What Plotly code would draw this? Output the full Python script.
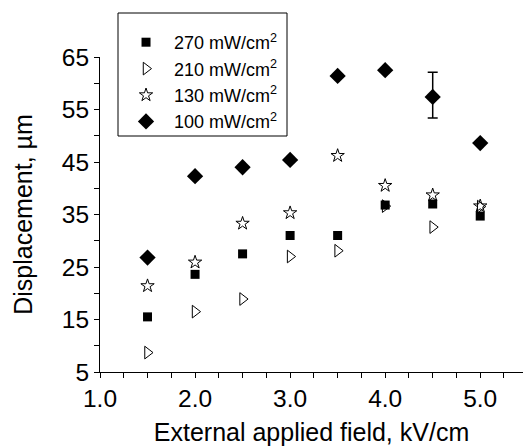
import plotly.graph_objects as go

field = [1.5, 2.0, 2.5, 3.0, 3.5, 4.0, 4.5, 5.0]
d270 = [15.5, 23.6, 27.5, 31.0, 31.0, 36.8, 37.0, 34.7]
d210 = [8.7, 16.5, 18.9, 27.0, 28.1, 36.6, 32.6, 36.5]
d130 = [21.4, 25.9, 33.3, 35.3, 46.2, 40.5, 38.7, 36.6]
d100 = [26.8, 42.3, 44.0, 45.4, 61.4, 62.5, 57.4, 48.6]
err100_plus = [0, 0, 0, 0, 0, 0, 4.7, 0]
err100_minus = [0, 0, 0, 0, 0, 0, 4.0, 0]
x_ticks = [1.0, 2.0, 3.0, 4.0, 5.0]
y_ticks = [5, 15, 25, 35, 45, 55, 65]

FONT = "Liberation Sans, Arial, sans-serif"

fig = go.Figure()
fig.add_trace(go.Scatter(x=field, y=d270, mode="markers", name="270 mW/cm<sup>2</sup>",
                         marker=dict(symbol="square", size=9, color="black")))
fig.add_trace(go.Scatter(x=field, y=d210, mode="markers", name="210 mW/cm<sup>2</sup>",
                         marker=dict(symbol="triangle-right-open", size=11, color="black",
                                     line=dict(width=1, color="black"))))
fig.add_trace(go.Scatter(x=field, y=d130, mode="markers", name="130 mW/cm<sup>2</sup>",
                         marker=dict(symbol="star-open", size=10, color="black",
                                     line=dict(width=1, color="black"))))
fig.add_trace(go.Scatter(x=field, y=d100, mode="markers", name="100 mW/cm<sup>2</sup>",
                         marker=dict(symbol="diamond", size=12.5, color="black"),
                         error_y=dict(type="data", symmetric=False, array=err100_plus,
                                      arrayminus=err100_minus, color="black",
                                      thickness=1.5, width=5)))

# legend frame (paper coordinates)
fig.add_shape(type="rect", xref="paper", yref="paper",
              x0=18 / 423, x1=187 / 423, y0=(372 - 136) / 315, y1=(372 - 13) / 315,
              line=dict(color="black", width=1), fillcolor="rgba(0,0,0,0)", layer="above")

fig.update_layout(
    width=523, height=446,
    margin=dict(l=100, r=0, t=57, b=74),
    paper_bgcolor="white", plot_bgcolor="white",
    font=dict(family=FONT, size=22, color="black"),
    showlegend=True,
    legend=dict(x=0.0426, y=(372 - 24) / 315, xanchor="left", yanchor="top",
                borderwidth=0, bgcolor="rgba(0,0,0,0)",
                font=dict(size=18, family=FONT), itemwidth=46),
    xaxis=dict(range=[1.0, 5.45], tickvals=x_ticks, ticktext=[f"{v:.1f}" for v in x_ticks],
               showgrid=False, zeroline=False, showline=True, linecolor="black", linewidth=1,
               ticks="outside", ticklen=5, tickcolor="black",
               minor=dict(dtick=0.25, tick0=1.0, ticks="outside", ticklen=5, tickcolor="black"),
               title=dict(text="External applied field, kV/cm", standoff=15,
                          font=dict(size=25)),
               tickfont=dict(size=24.5)),
    yaxis=dict(range=[5, 65], tickvals=y_ticks,
               showgrid=False, zeroline=False, showline=True, linecolor="black", linewidth=1,
               ticks="outside", ticklen=5, tickcolor="black",
               minor=dict(dtick=5, tick0=5, ticks="outside", ticklen=5, tickcolor="black"),
               title=dict(text="Displacement, µm", standoff=22, font=dict(size=25)),
               tickfont=dict(size=24.5)),
)

fig.write_html("out.html")
